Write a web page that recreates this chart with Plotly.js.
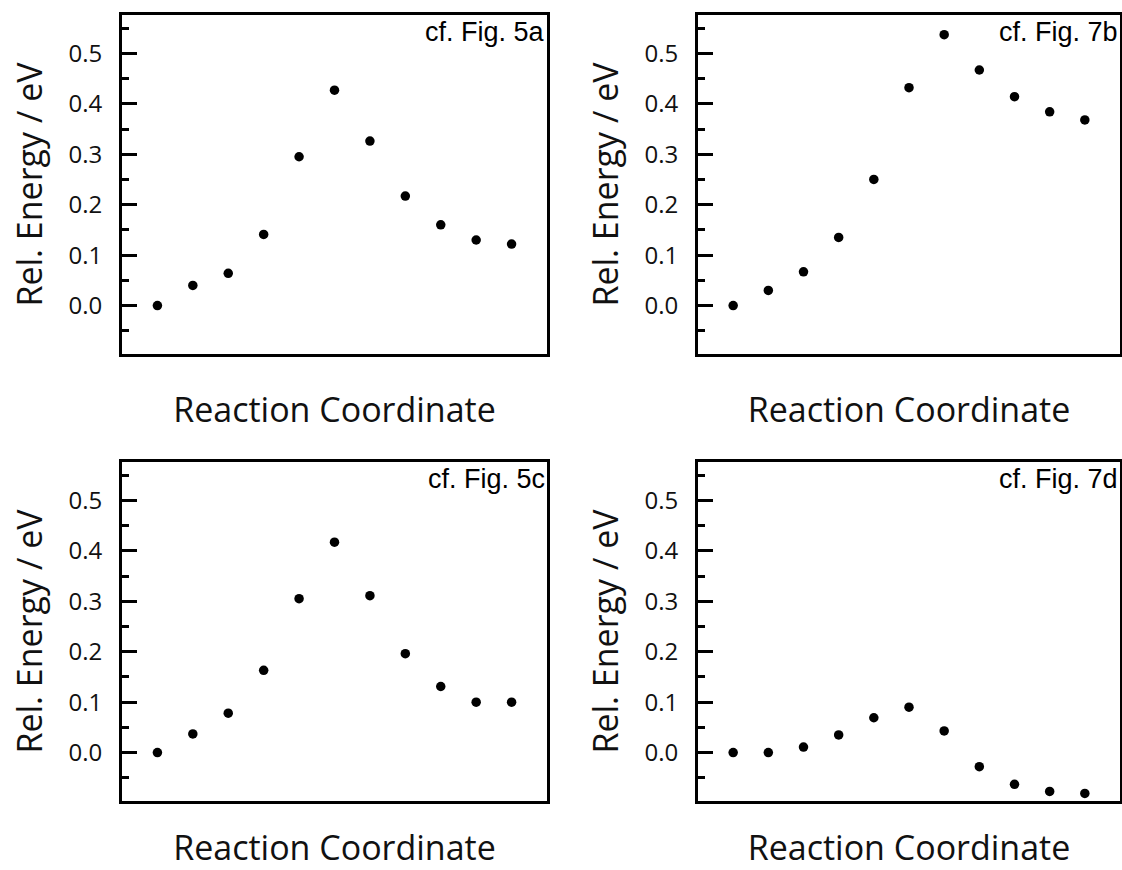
<!DOCTYPE html>
<html>
<head>
<meta charset="utf-8">
<script src="https://cdn.plot.ly/plotly-3.0.1.min.js"></script>
<style>
  html, body { margin: 0; padding: 0; background: #fff; }
  #chart { width: 1122px; height: 870px; }
</style>
</head>
<body>
<div id="chart"></div>
<script>
// Reaction path images (index along the coordinate)
const images = [0, 1, 2, 3, 4, 5, 6, 7, 8, 9, 10];

// Relative energies (eV) for each path
const energyFig5a = [0.000, 0.040, 0.064, 0.141, 0.295, 0.427, 0.326, 0.217, 0.160, 0.130, 0.122];
const energyFig7b = [0.000, 0.030, 0.067, 0.135, 0.250, 0.432, 0.537, 0.467, 0.414, 0.384, 0.368];
const energyFig5c = [0.000, 0.037, 0.078, 0.163, 0.305, 0.417, 0.311, 0.196, 0.131, 0.100, 0.100];
const energyFig7d = [0.000, 0.000, 0.011, 0.035, 0.069, 0.090, 0.043, -0.028, -0.063, -0.077, -0.081];

const panelLabels = ['cf. Fig. 5a', 'cf. Fig. 7b', 'cf. Fig. 5c', 'cf. Fig. 7d'];
const majorTicks = [0, 0.1, 0.2, 0.3, 0.4, 0.5];
const xTitle = 'Reaction Coordinate';
const yTitle = 'Rel. Energy / eV';

const series = [energyFig5a, energyFig7b, energyFig5c, energyFig7d];
const W = 1122, H = 870;

// panel boxes in pixels: [left, right, top, bottom]
const boxes = [
  [122, 547, 15, 354],
  [698, 1120, 15, 354],
  [122, 547, 462, 801],
  [698, 1120, 462, 801]
];
// gap between each panel's bottom edge and its x-axis title
const xTitleGap = [43, 43, 49, 49];

const traces = series.map((ys, i) => ({
  type: 'scatter',
  mode: 'markers',
  x: images,
  y: ys,
  xaxis: i === 0 ? 'x' : 'x' + (i + 1),
  yaxis: i === 0 ? 'y' : 'y' + (i + 1),
  marker: { color: '#000', size: 9.5 },
  showlegend: false,
  hoverinfo: 'x+y'
}));

const layout = {
  width: W,
  height: H,
  margin: { l: 0, r: 0, t: 0, b: 0 },
  paper_bgcolor: '#fff',
  plot_bgcolor: '#fff',
  font: { family: '"Open Sans", sans-serif', color: '#000' },
  showlegend: false,
  annotations: []
};

boxes.forEach((b, i) => {
  const sfx = i === 0 ? '' : String(i + 1);
  layout['xaxis' + sfx] = {
    domain: [b[0] / W, b[1] / W],
    anchor: 'y' + sfx,
    range: [-1, 11],
    showticklabels: false,
    ticks: '',
    showgrid: false,
    zeroline: false,
    showline: true,
    mirror: true,
    linewidth: 3,
    linecolor: '#000',
    title: {
      text: xTitle,
      font: { size: 34, family: '"Open Sans", sans-serif', color: '#111' },
      standoff: xTitleGap[i]
    }
  };
  layout['yaxis' + sfx] = {
    domain: [1 - b[3] / H, 1 - b[2] / H],
    anchor: 'x' + sfx,
    range: [-0.096, 0.576],
    tickvals: majorTicks,
    tickformat: '.1f',
    ticks: 'inside',
    ticklen: 15,
    tickwidth: 3,
    tickcolor: '#000',
    ticklabelstandoff: 12,
    tickfont: { size: 24, family: '"Open Sans", sans-serif', color: '#111' },
    minor: { dtick: 0.05, tick0: 0, ticks: 'inside', ticklen: 7, tickwidth: 3, tickcolor: '#000', showgrid: false },
    showgrid: false,
    zeroline: false,
    showline: true,
    mirror: true,
    linewidth: 3,
    linecolor: '#000',
    title: {
      text: yTitle,
      font: { size: 34, family: '"Open Sans", sans-serif', color: '#111' },
      standoff: 16
    }
  };
  layout.annotations.push({
    text: panelLabels[i],
    xref: 'x' + sfx + ' domain',
    yref: 'y' + sfx + ' domain',
    x: 1,
    y: 1,
    xanchor: 'right',
    yanchor: 'top',
    xshift: -1,
    yshift: -1,
    showarrow: false,
    borderpad: 0,
    font: { family: '"Liberation Sans", Arial, sans-serif', size: 27, color: '#000' }
  });
});

Plotly.newPlot('chart', traces, layout, { displayModeBar: false, staticPlot: true });
</script>
</body>
</html>
